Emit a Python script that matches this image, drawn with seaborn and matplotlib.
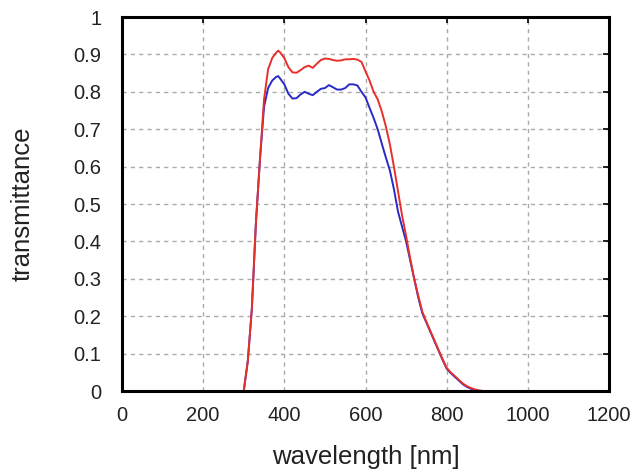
import numpy as np
import pandas as pd
import matplotlib
matplotlib.use("Agg")
import matplotlib.pyplot as plt
import seaborn as sns

# wavelength [nm] and transmittance
wl_red = [300, 310, 320, 330, 340, 350, 360, 370, 380, 385, 390, 400, 410, 420,
          430, 440, 450, 460, 470, 480, 490, 500, 510, 520, 530, 540, 550, 560,
          570, 580, 590, 600, 610, 620, 630, 640, 650, 660, 670, 680, 690, 700,
          710, 720, 730, 740, 750, 760, 770, 780, 790, 800, 810, 820, 830, 840,
          850, 860, 870, 880, 890]
t_red = [0.0, 0.08, 0.22, 0.45, 0.62, 0.78, 0.86, 0.89, 0.905, 0.91, 0.905, 0.89,
         0.866, 0.852, 0.851, 0.858, 0.866, 0.87, 0.864, 0.875, 0.885, 0.889,
         0.888, 0.885, 0.883, 0.884, 0.887, 0.887, 0.888, 0.886, 0.88, 0.855,
         0.83, 0.80, 0.78, 0.748, 0.708, 0.66, 0.60, 0.535, 0.47, 0.415, 0.355,
         0.30, 0.255, 0.212, 0.185, 0.16, 0.135, 0.11, 0.085, 0.062, 0.05, 0.04,
         0.03, 0.02, 0.013, 0.008, 0.004, 0.002, 0.0]

wl_blue = [300, 310, 320, 330, 340, 350, 360, 370, 380, 385, 390, 400, 410, 420,
           430, 440, 450, 460, 470, 480, 490, 500, 510, 520, 530, 540, 550, 560,
           570, 580, 590, 600, 610, 620, 630, 640, 650, 660, 670, 680, 690, 700,
           710, 720, 730, 740, 750, 760, 770, 780, 790, 800, 810, 820, 830, 840,
           850, 860, 870, 880]
t_blue = [0.0, 0.08, 0.22, 0.45, 0.62, 0.76, 0.81, 0.83, 0.84, 0.842, 0.835,
          0.82, 0.795, 0.782, 0.783, 0.793, 0.80, 0.795, 0.791, 0.80, 0.808,
          0.81, 0.818, 0.812, 0.806, 0.806, 0.81, 0.82, 0.82, 0.817, 0.80,
          0.785, 0.757, 0.73, 0.70, 0.662, 0.625, 0.59, 0.54, 0.48, 0.44, 0.40,
          0.35, 0.30, 0.25, 0.208, 0.183, 0.158, 0.133, 0.108, 0.083, 0.06,
          0.048, 0.038, 0.028, 0.018, 0.011, 0.006, 0.003, 0.0]

x_ticks = [0, 200, 400, 600, 800, 1000, 1200]
y_ticks = [0, 0.1, 0.2, 0.3, 0.4, 0.5, 0.6, 0.7, 0.8, 0.9, 1]
y_labels = ["0", "0.1", "0.2", "0.3", "0.4", "0.5", "0.6", "0.7", "0.8", "0.9", "1"]

sns.set_style("white")
plt.rcParams['font.family'] = ['Liberation Sans', 'DejaVu Sans']

fig = plt.figure(figsize=(6.34, 4.70), dpi=100)
ax = fig.add_axes([0.1924, 0.168, 0.7682, 0.7958])

sns.lineplot(x=wl_blue, y=t_blue, color="#2a2ac8", linewidth=1.4, ax=ax)
sns.lineplot(x=wl_red, y=t_red, color="#e8302a", linewidth=1.4, ax=ax)

ax.set_xlim(0, 1200)
ax.set_ylim(0, 1)
ax.set_xticks(x_ticks)
ax.set_yticks(y_ticks)
ax.set_yticklabels(y_labels)

ax.grid(True, color="#aaaaaa", linestyle=(0, (3, 3)), linewidth=1.0)
ax.tick_params(direction="in", length=4, width=1.2, top=True, right=True,
               labelsize=14.5, colors="black", labelcolor="#222222")
ax.tick_params(axis="y", pad=15)
ax.tick_params(axis="x", pad=11)
for s in ax.spines.values():
    s.set_linewidth(2.2)
    s.set_color("black")

ax.set_xlabel("wavelength [nm]", fontsize=18.5, labelpad=14, color="#222222")
ax.set_ylabel("transmittance", fontsize=18.5, labelpad=28, color="#222222")

fig.savefig("out.png", dpi=100)
